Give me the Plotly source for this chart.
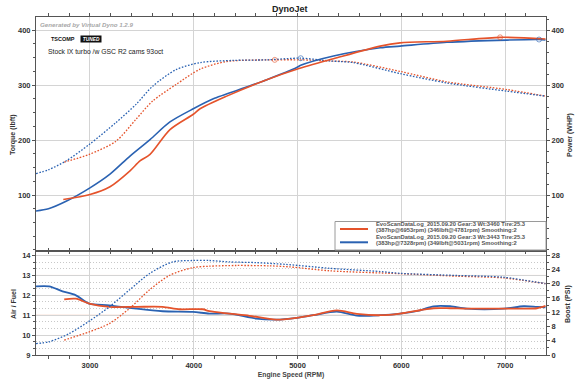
import plotly.graph_objects as go

# ---------------- data ----------------
# Torque (lbft), dotted
tq_red_rpm = [2752, 2993, 3251, 3444, 3604, 3829, 4061, 4318, 4781, 5031, 5314, 5539, 5989, 6440, 7018, 7390]
tq_red = [160, 174, 198, 238, 271, 301, 329, 343, 346, 346, 344, 342, 325, 306, 292, 280]
tq_blue_rpm = [2480, 2600, 2769, 2993, 3251, 3444, 3604, 3829, 4061, 4379, 4700, 5031, 5314, 5536, 5989, 6440, 7018, 7390]
tq_blue = [139, 146, 162, 192, 232, 265, 298, 328, 341, 345, 346, 349, 344, 341, 321, 304, 289, 280]

# Power (WHP), solid
hp_red_rpm = [2743, 3000, 3193, 3386, 3482, 3579, 3771, 3996, 4061, 4318, 4704, 4993, 5347, 5797, 5989, 6440, 6953, 7390]
hp_red = [92, 101, 115, 144, 162, 174, 219, 247, 257, 280, 310, 329, 348, 371, 377, 380, 387, 384]
hp_blue_rpm = [2480, 2600, 2775, 3000, 3193, 3386, 3579, 3771, 3996, 4200, 4350, 4704, 4993, 5031, 5347, 5797, 5989, 6440, 7018, 7328, 7390]
hp_blue = [71, 75, 89, 113, 138, 171, 201, 233, 257, 276, 286, 310, 332, 336, 353, 368, 371, 378, 382, 383, 382]

# Peaks
peak_tq_red = (4781, 346)
peak_tq_blue = (5031, 349)
peak_hp_red = (6953, 387)
peak_hp_blue = (7328, 383)

# Air / Fuel, solid
afr_red_rpm = [2752, 2865, 2993, 3186, 3444, 3701, 3862, 4087, 4151, 4343, 4537, 4794, 4993, 5153, 5379, 5572, 5797, 5989, 6182, 6311, 6472, 6633, 6986, 7179, 7308, 7390]
afr_red = [11.8, 11.83, 11.58, 11.42, 11.42, 11.42, 11.3, 11.3, 11.2, 11.08, 10.97, 10.78, 10.87, 11.0, 11.24, 11.07, 11.0, 11.08, 11.25, 11.35, 11.35, 11.33, 11.33, 11.33, 11.35, 11.47]
afr_blue_rpm = [2480, 2606, 2736, 2865, 2993, 3186, 3444, 3701, 3990, 4151, 4343, 4601, 4794, 4993, 5153, 5379, 5572, 5797, 5989, 6182, 6311, 6472, 6633, 6986, 7179, 7308, 7390]
afr_blue = [12.45, 12.45, 12.2, 12.0, 11.58, 11.5, 11.33, 11.2, 11.17, 11.08, 11.08, 10.83, 10.78, 10.87, 11.0, 11.18, 10.98, 11.0, 11.08, 11.25, 11.45, 11.45, 11.33, 11.33, 11.45, 11.42, 11.4]

# Boost (PSI), dotted
boost_red_rpm = [2752, 2993, 3186, 3379, 3572, 3765, 3990, 4151, 4408, 4729, 4929, 5314, 5989, 6536, 6986, 7390]
boost_red = [4.2, 6.5, 8.8, 13.0, 18.2, 22.3, 24.5, 24.9, 25.1, 25.0, 24.7, 23.6, 22.8, 22.1, 21.6, 20.0]
boost_blue_rpm = [2480, 2606, 2800, 2993, 3186, 3379, 3572, 3797, 3990, 4151, 4343, 4601, 4890, 5314, 5797, 5989, 6536, 6986, 7390]
boost_blue = [3.2, 3.7, 6.0, 9.5, 13.5, 18.2, 22.8, 26.1, 26.5, 26.5, 26.1, 25.9, 25.4, 24.3, 23.4, 22.9, 22.3, 21.8, 20.0]

legend_red = ["EvoScanDataLog_2015.09.20 Gear:3 Wt:3460 Tire:25.3",
              "(387hp@6953rpm) (346lbft@4781rpm) Smoothing:2"]
legend_blue = ["EvoScanDataLog_2015.09.20 Gear:3 Wt:3443 Tire:25.3",
               "(383hp@7328rpm) (349lbft@5031rpm) Smoothing:2"]

x_ticks = [3000, 4000, 5000, 6000, 7000]

# ---------------- style ----------------
RED = "#e5532b"
BLUE = "#2a62b2"
FONT = "Liberation Sans"
GRID = "#d4d4d4"
AXL = "#555555"
DOT = "1.6px,1.6px"

fig = go.Figure()

def line(x, y, color, dash, width, xa, ya):
    fig.add_trace(go.Scatter(
        x=x, y=y, mode="lines", xaxis=xa, yaxis=ya, showlegend=False,
        line=dict(color=color, dash=dash, width=width, shape="spline", smoothing=0.8),
        hoverinfo="skip"))

# top panel
line(tq_red_rpm, tq_red, RED, DOT, 1.3, "x", "y")
line(tq_blue_rpm, tq_blue, BLUE, DOT, 1.3, "x", "y")
line(hp_blue_rpm, hp_blue, BLUE, "solid", 1.6, "x", "y2")
line(hp_red_rpm, hp_red, RED, "solid", 1.6, "x", "y2")

for (px_, py_), c, ya in [(peak_tq_red, RED, "y"), (peak_tq_blue, BLUE, "y"),
                          (peak_hp_red, RED, "y2"), (peak_hp_blue, BLUE, "y2")]:
    fig.add_trace(go.Scatter(x=[px_], y=[py_], mode="markers", xaxis="x", yaxis=ya,
                             showlegend=False, hoverinfo="skip",
                             marker=dict(symbol="circle-open", size=5, color=c, opacity=0.6,
                                         line=dict(width=1, color=c))))

# bottom panel
line(boost_red_rpm, boost_red, RED, DOT, 1.3, "x2", "y4")
line(boost_blue_rpm, boost_blue, BLUE, DOT, 1.3, "x2", "y4")
line(afr_blue_rpm, afr_blue, BLUE, "solid", 1.8, "x2", "y3")
line(afr_red_rpm, afr_red, RED, "solid", 1.8, "x2", "y3")

tickfont = dict(family=FONT, size=7.5, color="#333", weight="bold")
XR = [2480, 7395]

common_x = dict(range=XR, showline=True, linecolor=AXL, linewidth=1, mirror="allticks",
                ticks="outside", ticklen=3, tickcolor=AXL, showgrid=True, gridcolor=GRID,
                gridwidth=1, tickvals=x_ticks, zeroline=False, automargin=False,
                minor=dict(dtick=200, tick0=0, ticks="outside", ticklen=2, tickcolor=AXL, showgrid=False))

fig.update_layout(
    width=580, height=382,
    margin=dict(l=36, r=34, t=17, b=27, autoexpand=False),
    paper_bgcolor="white", plot_bgcolor="white",
    font=dict(family=FONT, color="#333"),
    showlegend=False,
    xaxis=dict(common_x, anchor="y", showticklabels=False),
    xaxis2=dict(common_x, anchor="y3", tickfont=tickfont, matches="x",
                title=dict(text="Engine Speed (RPM)", standoff=3,
                           font=dict(family=FONT, size=6.8, color="#444", weight="bold"))),
    yaxis=dict(domain=[0.3107, 1], range=[0, 424], anchor="x", tickvals=[100, 200, 300, 400],
               showline=True, linecolor=AXL, mirror=False, ticks="outside", ticklen=3,
               tickcolor=AXL, tickfont=tickfont, showgrid=True, gridcolor=GRID, zeroline=False,
               automargin=False,
               minor=dict(dtick=25, ticks="outside", ticklen=2, tickcolor=AXL, showgrid=False)),
    yaxis2=dict(overlaying="y", side="right", range=[0, 424], anchor="x",
                tickvals=[100, 200, 300, 400], showline=True, linecolor=AXL, ticks="outside",
                ticklen=3, tickcolor=AXL, tickfont=tickfont, showgrid=False, zeroline=False,
                automargin=False,
                minor=dict(dtick=20, ticks="outside", ticklen=2, tickcolor=AXL)),
    yaxis3=dict(domain=[0, 0.306], range=[9, 14.2], anchor="x2", dtick=1, tick0=9,
                showline=True, linecolor=AXL, ticks="outside", ticklen=3, tickcolor=AXL,
                tickfont=tickfont, showgrid=True, gridcolor=GRID, zeroline=False,
                automargin=False,
                minor=dict(dtick=1 / 3, tick0=9, ticks="outside", ticklen=2, tickcolor=AXL,
                           showgrid=True, gridcolor="#c8c8c8", griddash="1px,2px")),
    yaxis4=dict(overlaying="y3", side="right", range=[0, 29], anchor="x2", dtick=4,
                showline=True, linecolor=AXL, ticks="outside", ticklen=3, tickcolor=AXL,
                tickfont=tickfont, showgrid=False, zeroline=False, automargin=False,
                minor=dict(dtick=2, ticks="outside", ticklen=2, tickcolor=AXL)),
)

# AFR reference lines
for v in [13, 11]:
    fig.add_shape(type="line", xref="x2 domain", yref="y3", x0=0, x1=1, y0=v, y1=v,
                  line=dict(color="#f3c9b8", width=1), layer="below")

# pixel -> paper helpers (plot area spans x 36..546, y 17..355)
def px(xp):
    return (xp - 36) / 510

def py(yp):
    return (355 - yp) / 338

def ann(text, x, y, size, color, rot=0, anchor="center", **kw):
    fig.add_annotation(text=text, xref="paper", yref="paper", x=x, y=y, showarrow=False,
                       textangle=rot, xanchor=anchor, yanchor="middle", borderpad=0,
                       font=dict(family=FONT, size=size, color=color, **kw))

# title
ann("DynoJet", px(290), py(8.5), 9, "#222", 0, "center", weight="bold")

ann("Torque (lbft)", px(13), py(135), 7, "#333", -90, weight="bold")
ann("Power (WHP)", px(570), py(135), 7, "#333", -90, weight="bold")
ann("Air / Fuel", px(13), py(304), 7, "#333", -90, weight="bold")
ann("Boost (PSI)", px(568), py(304), 7, "#333", -90, weight="bold")

ann("Generated by Virtual Dyno 1.2.9", px(39), py(24), 6.2, "#a8a8a8", 0, "left",
    style="italic", weight="bold")
ann("TSCOMP", px(50), py(38.8), 5.5, "#111", 0, "left", weight="bold")
fig.add_annotation(text="<i><b> TUNED </b></i>", xref="paper", yref="paper", x=px(80), y=py(38.8),
                   showarrow=False, xanchor="left", yanchor="middle", bgcolor="#111",
                   borderpad=0.5, font=dict(family=FONT, size=4.8, color="white"))
ann("Stock IX turbo /w GSC R2 cams 93oct", px(47), py(52), 6.8, "#222", 0, "left")

# legend box (manual)
fig.add_shape(type="rect", xref="paper", yref="paper", x0=px(335), x1=px(546),
              y0=py(250), y1=py(221.5), fillcolor="white", line=dict(color="#9a9a9a", width=1),
              layer="above")
fig.add_shape(type="line", xref="paper", yref="paper", x0=px(340), x1=px(368),
              y0=py(229), y1=py(229), line=dict(color=RED, width=2))
fig.add_shape(type="line", xref="paper", yref="paper", x0=px(340), x1=px(368),
              y0=py(242.3), y1=py(242.3), line=dict(color=BLUE, width=2))
for txt, yy in zip(legend_red + legend_blue, [224, 230, 237, 243.5]):
    ann(txt, px(375), py(yy), 5.8, "#555", 0, "left", weight="bold")

# remove the browser's default 8px body margin so the figure sits at the page origin
fig.write_html("out.html", config={"displayModeBar": False},
               post_script="document.body.style.margin='0';")
